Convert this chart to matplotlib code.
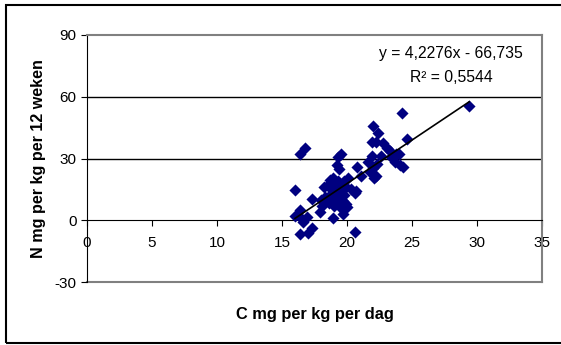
import numpy as np
import matplotlib
matplotlib.use('Agg')
import matplotlib.pyplot as plt
from matplotlib.patches import Rectangle

# C mg per kg per dag vs N mg per kg per 12 weken
c_dag = [29.4, 24.2, 22.0, 22.4, 24.6, 21.9, 22.2, 22.8, 23.1, 23.3,
         23.8, 24.0, 21.9, 22.6, 23.4, 23.7, 24.3, 24.1, 21.6, 22.3,
         22.0, 21.8, 22.2, 22.1, 21.1, 20.8, 16.8, 16.4, 19.5, 19.3,
         19.2, 19.4, 20.1, 19.8, 19.6, 19.9, 20.7, 20.6, 20.3, 16.0,
         17.3, 16.0, 16.4, 16.5, 16.6, 16.4, 17.3, 17.0, 16.9, 18.9,
         20.6, 17.9, 18.1, 18.4, 18.6, 18.5, 18.7, 18.9, 18.2, 18.8,
         19.0, 19.1, 19.2, 19.3, 19.0, 19.5, 19.7, 19.9, 20.0, 19.6,
         19.4, 19.7, 18.6, 18.3, 19.0, 19.3, 19.8, 18.0, 18.8, 19.5]
n_weken = [55.5, 52.3, 45.8, 42.4, 39.7, 37.8, 37.8, 37.6, 35.0, 33.5,
           32.4, 32.0, 31.3, 31.0, 30.6, 28.4, 26.0, 27.0, 28.3, 27.2,
           25.3, 23.3, 21.5, 20.5, 21.5, 26.0, 35.2, 32.0, 32.0, 30.5,
           27.0, 25.0, 20.5, 19.0, 17.5, 16.0, 14.0, 13.0, 15.0, 14.8,
           10.5, 2.0, 5.0, 0.5, -1.0, -6.8, -4.0, -6.0, 1.5, 1.0,
           -5.7, 4.0, 7.0, 10.0, 12.0, 17.0, 19.5, 20.5, 16.0, 15.0,
           18.0, 13.0, 11.0, 9.0, 7.0, 6.0, 3.0, 8.0, 6.5, 12.0,
           14.5, 9.5, 8.5, 11.5, 16.0, 19.0, 12.5, 10.0, 10.5, 15.5]

slope = 4.2276
intercept = -66.735
r2_label = 'R² = 0,5544'
eq_label = 'y = 4,2276x - 66,735'

x_ticks = [0, 5, 10, 15, 20, 25, 30, 35]
y_ticks = [-30, 0, 30, 60, 90]

plt.rcParams['font.family'] = ['Liberation Sans', 'DejaVu Sans']
plt.rcParams['axes.unicode_minus'] = False

fig = plt.figure(figsize=(5.61, 3.45), dpi=100)
# outer chart border (right edge runs off the picture)
fig.patches.append(Rectangle((6 / 561, 2.5 / 345), 560 / 561, 337.5 / 345,
                             transform=fig.transFigure, fill=False,
                             edgecolor='black', linewidth=1.5))

ax = fig.add_axes([87 / 561, 63 / 345, 455 / 561, 247 / 345])
ax.set_xlim(0, 35)
ax.set_ylim(-30, 90)

for g in [30, 60]:
    ax.axhline(g, color='black', linewidth=1, zorder=1)

ax.scatter(c_dag, n_weken, marker='D', s=38, color='#000080', zorder=3,
           linewidths=0)

xs = np.array([min(c_dag), max(c_dag)])
ax.plot(xs, slope * xs + intercept, color='black', linewidth=1.2, zorder=4)

for side in ['top', 'right']:
    ax.spines[side].set_color('#808080')
    ax.spines[side].set_linewidth(1.5)
ax.spines['left'].set_color('black')
ax.spines['bottom'].set_position(('data', 0))
ax.spines['bottom'].set_color('black')
ax.axhline(-30, color='#808080', linewidth=1.5, clip_on=False, zorder=0)

ax.set_xticks(x_ticks)
ax.set_yticks(y_ticks)
ax.tick_params(axis='both', direction='out', length=4, labelsize=11)
ax.tick_params(axis='x', pad=7)

ax.text(0.80, 0.927, eq_label, transform=ax.transAxes, ha='center',
        va='center', fontsize=11.3)
ax.text(0.80, 0.826, r2_label, transform=ax.transAxes, ha='center',
        va='center', fontsize=11.3)

ax.set_ylabel('N mg per kg per 12 weken', fontsize=11.6, fontweight='bold',
              labelpad=6)
ax.set_xlabel('C mg per kg per dag', fontsize=11.8, fontweight='bold')
ax.xaxis.set_label_coords(0.5, -0.10)

fig.savefig('out.png', dpi=100)
